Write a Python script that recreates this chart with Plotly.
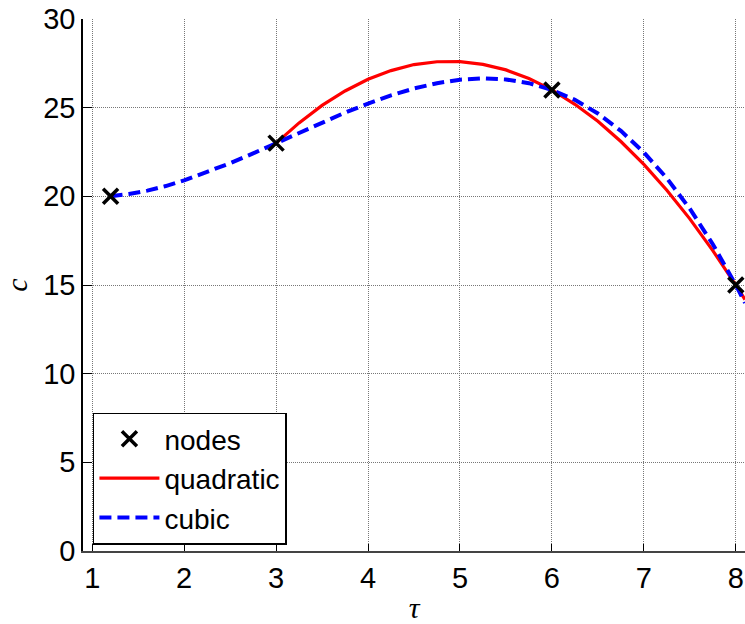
import plotly.graph_objects as go

# nodes
node_t = [1.2, 3, 6, 8]
node_c = [20, 23, 26, 15]

# quadratic curve
quad_t = [3, 3.25, 3.5, 3.75, 4, 4.25, 4.5, 4.75, 5, 5.25, 5.5, 5.75, 6,
          6.25, 6.5, 6.75, 7, 7.25, 7.5, 7.75, 8, 8.1]
quad_c = [23, 24.14, 25.13, 25.94, 26.6, 27.09, 27.43, 27.59, 27.6, 27.44, 27.13, 26.64, 26,
          25.19, 24.23, 23.09, 21.8, 20.34, 18.73, 16.94, 15, 14.18]

# cubic curve
cub_t = [1.2, 1.4, 1.6, 1.8, 2.0, 2.25, 2.5, 2.75, 3, 3.25, 3.5, 3.75, 4, 4.25, 4.5,
         4.75, 5, 5.25, 5.5, 5.75, 6, 6.25, 6.5, 6.75, 7, 7.25, 7.5, 7.75, 8, 8.1]
cub_c = [20, 20.13, 20.32, 20.58, 20.9, 21.36, 21.87, 22.42, 23, 23.59, 24.17, 24.72, 25.23, 25.69, 26.08,
         26.38, 26.58, 26.65, 26.59, 26.38, 26, 25.44, 24.67, 23.69, 22.48, 21.02, 19.3, 17.3, 15, 13.99]

x_ticks = [1, 2, 3, 4, 5, 6, 7, 8]
y_ticks = [0, 5, 10, 15, 20, 25, 30]

FONT = "Liberation Sans, Arial, sans-serif"
SERIF = "Liberation Serif, Times New Roman, serif"

fig = go.Figure()
fig.add_trace(go.Scatter(x=quad_t, y=quad_c, mode="lines", name="quadratic",
                         line=dict(color="#ff0000", width=3.2), legendrank=2))
fig.add_trace(go.Scatter(x=cub_t, y=cub_c, mode="lines", name="cubic",
                         line=dict(color="#0000ff", width=4, dash="12px,6px"), legendrank=3))
fig.add_trace(go.Scatter(x=node_t, y=node_c, mode="markers", name="nodes",
                         marker=dict(symbol="x-thin", size=15, color="black",
                                     line=dict(width=3.5, color="black")), legendrank=1))

fig.update_layout(
    width=745, height=624,
    margin=dict(l=83, r=0, t=19, b=73),
    paper_bgcolor="white", plot_bgcolor="white",
    font=dict(family=FONT, size=29, color="black"),
    showlegend=True,
    legend=dict(x=0.015, y=0.012, xanchor="left", yanchor="bottom",
                bgcolor="white", bordercolor="black", borderwidth=1.5,
                itemwidth=60, tracegroupgap=0,
                font=dict(family=FONT, size=28, color="black")),
    xaxis=dict(range=[0.9, 8.1], tickvals=x_ticks, ticktext=[str(v) for v in x_ticks],
               showline=True, linecolor="#444", linewidth=2, automargin=False,
               ticks="inside", ticklen=7, tickcolor="black",
               showgrid=True, gridcolor="#777", griddash="1px,1px", gridwidth=1,
               zeroline=False, tickfont=dict(family=FONT, size=29),
               title=dict(text="τ", font=dict(family=SERIF, size=30, style="italic"), standoff=16)),
    yaxis=dict(range=[0, 30], tickvals=y_ticks, ticktext=[str(v) for v in y_ticks],
               showline=True, linecolor="black", linewidth=1.5, automargin=False,
               ticks="inside", ticklen=9, tickcolor="black",
               showgrid=True, gridcolor="#777", griddash="1px,1px", gridwidth=1,
               zeroline=False, tickfont=dict(family=FONT, size=29),
               title=dict(text="c", font=dict(family=SERIF, size=30, style="italic"), standoff=18)),
)
fig.write_html("out.html")
